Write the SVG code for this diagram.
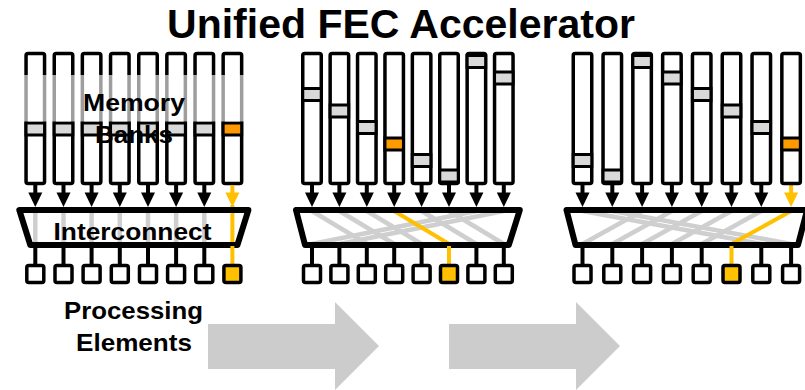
<svg xmlns="http://www.w3.org/2000/svg" xmlns:xlink="http://www.w3.org/1999/xlink" width="805" height="390" viewBox="0 0 805 390">
<style>
.bank{fill:#fff;stroke:#000;stroke-width:3.5}
.cell{fill:#d9d9d9;stroke:#000;stroke-width:3}
.hot{fill:#ff9900;stroke:#000;stroke-width:3}
.pe{fill:#fff;stroke:#000;stroke-width:3.5}
.pey{fill:#ffc000;stroke:#000;stroke-width:3.5}
.ic{fill:#fff;stroke:none}
.ico{fill:none;stroke:#000;stroke-width:6;stroke-linejoin:round}
.arr{fill:#000;stroke:#000}
.arry{fill:#ffc000;stroke:#ffc000}
.stem{stroke:#000;stroke-width:4}
.stemy{stroke:#ffc000;stroke-width:4}
.gl{stroke:#cfcfcf;stroke-width:4.5}
.yl{stroke:#ffc000;stroke-width:4}
.lbl{font-family:"Liberation Sans",Arial,sans-serif;font-weight:bold;fill:#000;text-anchor:middle}
.big{fill:#cccccc}
</style>
<defs>
<g id="a"><line x1="0" y1="185" x2="0" y2="196" stroke-width="4"/><polygon points="-7,192.5 7,192.5 0,207" stroke="none"/></g>
</defs>

<text class="lbl" x="401" y="38" font-size="41">Unified FEC Accelerator</text>

<!-- LEFT PANEL -->
<g id="left-banks">
<g id="L-bank1"><rect class="bank" x="26.05" y="53.5" width="18.5" height="130" rx="2"/><rect class="cell" x="26.05" y="123" width="18.5" height="12"/></g>
<g id="L-bank2"><rect class="bank" x="54.25" y="53.5" width="18.5" height="130" rx="2"/><rect class="cell" x="54.25" y="123" width="18.5" height="12"/></g>
<g id="L-bank3"><rect class="bank" x="82.35" y="53.5" width="18.5" height="130" rx="2"/><rect class="cell" x="82.35" y="123" width="18.5" height="12"/></g>
<g id="L-bank4"><rect class="bank" x="110.55" y="53.5" width="18.5" height="130" rx="2"/><rect class="cell" x="110.55" y="123" width="18.5" height="12"/></g>
<g id="L-bank5"><rect class="bank" x="138.75" y="53.5" width="18.5" height="130" rx="2"/><rect class="cell" x="138.75" y="123" width="18.5" height="12"/></g>
<g id="L-bank6"><rect class="bank" x="166.85" y="53.5" width="18.5" height="130" rx="2"/><rect class="cell" x="166.85" y="123" width="18.5" height="12"/></g>
<g id="L-bank7"><rect class="bank" x="195.05" y="53.5" width="18.5" height="130" rx="2"/><rect class="cell" x="195.05" y="123" width="18.5" height="12"/></g>
<g id="L-bank8"><rect class="bank" x="223.15" y="53.5" width="18.5" height="130" rx="2"/><rect class="hot" x="223.15" y="123" width="18.5" height="12"/></g>
<rect x="20" y="75" width="226" height="46.5" fill="#fff" fill-opacity="0.62"/>
<text class="lbl" x="134" y="111" font-size="24" textLength="102" lengthAdjust="spacingAndGlyphs">Memory</text>
<text class="lbl" x="134" y="143" font-size="24" textLength="78" lengthAdjust="spacingAndGlyphs">Banks</text>
</g>

<g id="L-interconnect">
<polygon class="ic" points="19.3,210 248.4,210 237.4,245 30.3,245"/>
</g>

<g id="connectors">
<!-- left -->
<use href="#a" x="35.3" class="arr"/><use href="#a" x="63.5" class="arr"/><use href="#a" x="91.6" class="arr"/><use href="#a" x="119.8" class="arr"/>
<use href="#a" x="148" class="arr"/><use href="#a" x="176.1" class="arr"/><use href="#a" x="204.3" class="arr"/><use href="#a" x="232.4" class="arry"/>
<line class="gl" x1="35.3" y1="211" x2="35.3" y2="244"/><line class="gl" x1="63.5" y1="211" x2="63.5" y2="244"/>
<line class="gl" x1="91.6" y1="211" x2="91.6" y2="244"/><line class="gl" x1="119.8" y1="211" x2="119.8" y2="244"/>
<line class="gl" x1="148" y1="211" x2="148" y2="244"/><line class="gl" x1="176.1" y1="211" x2="176.1" y2="244"/>
<line class="gl" x1="204.3" y1="211" x2="204.3" y2="244"/>
<line class="yl" x1="232.4" y1="205" x2="232.4" y2="245"/>
<!-- middle -->
<use href="#a" x="312" class="arr"/><use href="#a" x="339.4" class="arr"/><use href="#a" x="366.8" class="arr"/><use href="#a" x="394.2" class="arr"/>
<use href="#a" x="421.6" class="arr"/><use href="#a" x="449" class="arr"/><use href="#a" x="476.4" class="arr"/><use href="#a" x="503.8" class="arr"/>
</g>

<g id="M-interconnect"><polygon class="ic" points="296,210 519.8,210 508.8,245 305,245"/></g>
<g id="R-interconnect"><polygon class="ic" points="566.5,210 807.1,210 798,245 575.5,245"/></g>

<g id="connectors2">
<line class="gl" x1="312" y1="211" x2="366.8" y2="244"/>
<line class="gl" x1="339.4" y1="211" x2="394.2" y2="244"/>
<line class="gl" x1="366.8" y1="211" x2="421.6" y2="244"/>
<line class="gl" x1="421.6" y1="211" x2="476.4" y2="244"/>
<line class="gl" x1="449" y1="211" x2="503.8" y2="244"/>
<line class="gl" x1="476.4" y1="211" x2="312" y2="244"/>
<line class="gl" x1="503.8" y1="211" x2="339.4" y2="244"/>
<line class="yl" x1="394.2" y1="211" x2="449" y2="244"/>
<!-- right -->
<use href="#a" x="582.5" class="arr"/><use href="#a" x="612.3" class="arr"/><use href="#a" x="642.1" class="arr"/><use href="#a" x="671.9" class="arr"/>
<use href="#a" x="701.7" class="arr"/><use href="#a" x="731.5" class="arr"/><use href="#a" x="761.3" class="arr"/><use href="#a" x="791.1" class="arry"/>
<line class="gl" x1="582.5" y1="211" x2="761.3" y2="244"/>
<line class="gl" x1="612.3" y1="211" x2="791.1" y2="244"/>
<line class="gl" x1="642.1" y1="211" x2="582.5" y2="244"/>
<line class="gl" x1="671.9" y1="211" x2="612.3" y2="244"/>
<line class="gl" x1="701.7" y1="211" x2="642.1" y2="244"/>
<line class="gl" x1="731.5" y1="211" x2="671.9" y2="244"/>
<line class="gl" x1="761.3" y1="211" x2="701.7" y2="244"/>
<line class="yl" x1="791.1" y1="211" x2="731.5" y2="244"/>
<!-- outlines -->
<polygon class="ico" points="19.3,210 248.4,210 237.4,245 30.3,245"/>
<polygon class="ico" points="296,210 519.8,210 508.8,245 305,245"/>
<polygon class="ico" points="566.5,210 807.1,210 798,245 575.5,245"/>
<!-- stems -->
<line class="stem" x1="35.3" y1="246" x2="35.3" y2="265"/><line class="stem" x1="63.5" y1="246" x2="63.5" y2="265"/>
<line class="stem" x1="91.6" y1="246" x2="91.6" y2="265"/><line class="stem" x1="119.8" y1="246" x2="119.8" y2="265"/>
<line class="stem" x1="148" y1="246" x2="148" y2="265"/><line class="stem" x1="176.1" y1="246" x2="176.1" y2="265"/>
<line class="stem" x1="204.3" y1="246" x2="204.3" y2="265"/><line class="stemy" x1="232.4" y1="246" x2="232.4" y2="265"/>
<line class="stem" x1="312" y1="246" x2="312" y2="265"/><line class="stem" x1="339.4" y1="246" x2="339.4" y2="265"/>
<line class="stem" x1="366.8" y1="246" x2="366.8" y2="265"/><line class="stem" x1="394.2" y1="246" x2="394.2" y2="265"/>
<line class="stem" x1="421.6" y1="246" x2="421.6" y2="265"/><line class="stemy" x1="449" y1="246" x2="449" y2="265"/>
<line class="stem" x1="476.4" y1="246" x2="476.4" y2="265"/><line class="stem" x1="503.8" y1="246" x2="503.8" y2="265"/>
<line class="stem" x1="582.5" y1="246" x2="582.5" y2="265"/><line class="stem" x1="612.3" y1="246" x2="612.3" y2="265"/>
<line class="stem" x1="642.1" y1="246" x2="642.1" y2="265"/><line class="stem" x1="671.9" y1="246" x2="671.9" y2="265"/>
<line class="stem" x1="701.7" y1="246" x2="701.7" y2="265"/><line class="stemy" x1="731.5" y1="246" x2="731.5" y2="265"/>
<line class="stem" x1="761.3" y1="246" x2="761.3" y2="265"/><line class="stem" x1="791.1" y1="246" x2="791.1" y2="265"/>
</g>
<text class="lbl" x="132.5" y="240" font-size="24" textLength="158" lengthAdjust="spacingAndGlyphs">Interconnect</text>

<!-- PEs -->
<g id="L-pes">
<rect class="pe" x="26.8" y="265.5" width="17" height="17" rx="2"/><rect class="pe" x="55" y="265.5" width="17" height="17" rx="2"/>
<rect class="pe" x="83.1" y="265.5" width="17" height="17" rx="2"/><rect class="pe" x="111.3" y="265.5" width="17" height="17" rx="2"/>
<rect class="pe" x="139.5" y="265.5" width="17" height="17" rx="2"/><rect class="pe" x="167.6" y="265.5" width="17" height="17" rx="2"/>
<rect class="pe" x="195.8" y="265.5" width="17" height="17" rx="2"/><rect class="pey" x="223.9" y="265.5" width="17" height="17" rx="2"/>
</g>
<g id="M-pes">
<rect class="pe" x="303.5" y="265.5" width="17" height="17" rx="2"/><rect class="pe" x="330.9" y="265.5" width="17" height="17" rx="2"/>
<rect class="pe" x="358.3" y="265.5" width="17" height="17" rx="2"/><rect class="pe" x="385.7" y="265.5" width="17" height="17" rx="2"/>
<rect class="pe" x="413.1" y="265.5" width="17" height="17" rx="2"/><rect class="pey" x="440.5" y="265.5" width="17" height="17" rx="2"/>
<rect class="pe" x="467.9" y="265.5" width="17" height="17" rx="2"/><rect class="pe" x="495.3" y="265.5" width="17" height="17" rx="2"/>
</g>
<g id="R-pes">
<rect class="pe" x="574" y="265.5" width="17" height="17" rx="2"/><rect class="pe" x="603.8" y="265.5" width="17" height="17" rx="2"/>
<rect class="pe" x="633.6" y="265.5" width="17" height="17" rx="2"/><rect class="pe" x="663.4" y="265.5" width="17" height="17" rx="2"/>
<rect class="pe" x="693.2" y="265.5" width="17" height="17" rx="2"/><rect class="pey" x="723" y="265.5" width="17" height="17" rx="2"/>
<rect class="pe" x="752.8" y="265.5" width="17" height="17" rx="2"/><rect class="pe" x="782.6" y="265.5" width="17" height="17" rx="2"/>
</g>
<text class="lbl" x="133.5" y="319" font-size="24" textLength="139" lengthAdjust="spacingAndGlyphs">Processing</text>
<text class="lbl" x="134" y="351" font-size="24" textLength="116" lengthAdjust="spacingAndGlyphs">Elements</text>

<!-- MIDDLE BANKS -->
<g id="M-banks">
<g id="M-bank1"><rect class="bank" x="302.75" y="53.5" width="18.5" height="130" rx="2"/><rect class="cell" x="302.75" y="88.5" width="18.5" height="12"/></g>
<g id="M-bank2"><rect class="bank" x="330.15" y="53.5" width="18.5" height="130" rx="2"/><rect class="cell" x="330.15" y="105" width="18.5" height="12"/></g>
<g id="M-bank3"><rect class="bank" x="357.55" y="53.5" width="18.5" height="130" rx="2"/><rect class="cell" x="357.55" y="121.5" width="18.5" height="12"/></g>
<g id="M-bank4"><rect class="bank" x="384.95" y="53.5" width="18.5" height="130" rx="2"/><rect class="hot" x="384.95" y="138" width="18.5" height="12"/></g>
<g id="M-bank5"><rect class="bank" x="412.35" y="53.5" width="18.5" height="130" rx="2"/><rect class="cell" x="412.35" y="154.5" width="18.5" height="12"/></g>
<g id="M-bank6"><rect class="bank" x="439.75" y="53.5" width="18.5" height="130" rx="2"/><rect class="cell" x="439.75" y="170" width="18.5" height="12"/></g>
<g id="M-bank7"><rect class="bank" x="467.15" y="53.5" width="18.5" height="130" rx="2"/><rect class="cell" x="467.15" y="55.5" width="18.5" height="12"/></g>
<g id="M-bank8"><rect class="bank" x="494.55" y="53.5" width="18.5" height="130" rx="2"/><rect class="cell" x="494.55" y="72" width="18.5" height="12"/></g>
</g>

<!-- RIGHT BANKS -->
<g id="R-banks">
<g id="R-bank1"><rect class="bank" x="573.25" y="53.5" width="18.5" height="130" rx="2"/><rect class="cell" x="573.25" y="154.5" width="18.5" height="12"/></g>
<g id="R-bank2"><rect class="bank" x="603.05" y="53.5" width="18.5" height="130" rx="2"/><rect class="cell" x="603.05" y="170" width="18.5" height="12"/></g>
<g id="R-bank3"><rect class="bank" x="632.85" y="53.5" width="18.5" height="130" rx="2"/><rect class="cell" x="632.85" y="55.5" width="18.5" height="12"/></g>
<g id="R-bank4"><rect class="bank" x="662.65" y="53.5" width="18.5" height="130" rx="2"/><rect class="cell" x="662.65" y="72" width="18.5" height="12"/></g>
<g id="R-bank5"><rect class="bank" x="692.45" y="53.5" width="18.5" height="130" rx="2"/><rect class="cell" x="692.45" y="88.5" width="18.5" height="12"/></g>
<g id="R-bank6"><rect class="bank" x="722.25" y="53.5" width="18.5" height="130" rx="2"/><rect class="cell" x="722.25" y="105" width="18.5" height="12"/></g>
<g id="R-bank7"><rect class="bank" x="752.05" y="53.5" width="18.5" height="130" rx="2"/><rect class="cell" x="752.05" y="121.5" width="18.5" height="12"/></g>
<g id="R-bank8"><rect class="bank" x="781.85" y="53.5" width="18.5" height="130" rx="2"/><rect class="hot" x="781.85" y="138" width="18.5" height="12"/></g>
</g>

<!-- big gray arrows -->
<g id="arrow1"><polygon class="big" points="208,324 335,324 335,302 379,346 335,390 335,369 208,369"/></g>
<g id="arrow2"><polygon class="big" points="449,324 576,324 576,302 620,346 576,390 576,369 449,369"/></g>
</svg>
